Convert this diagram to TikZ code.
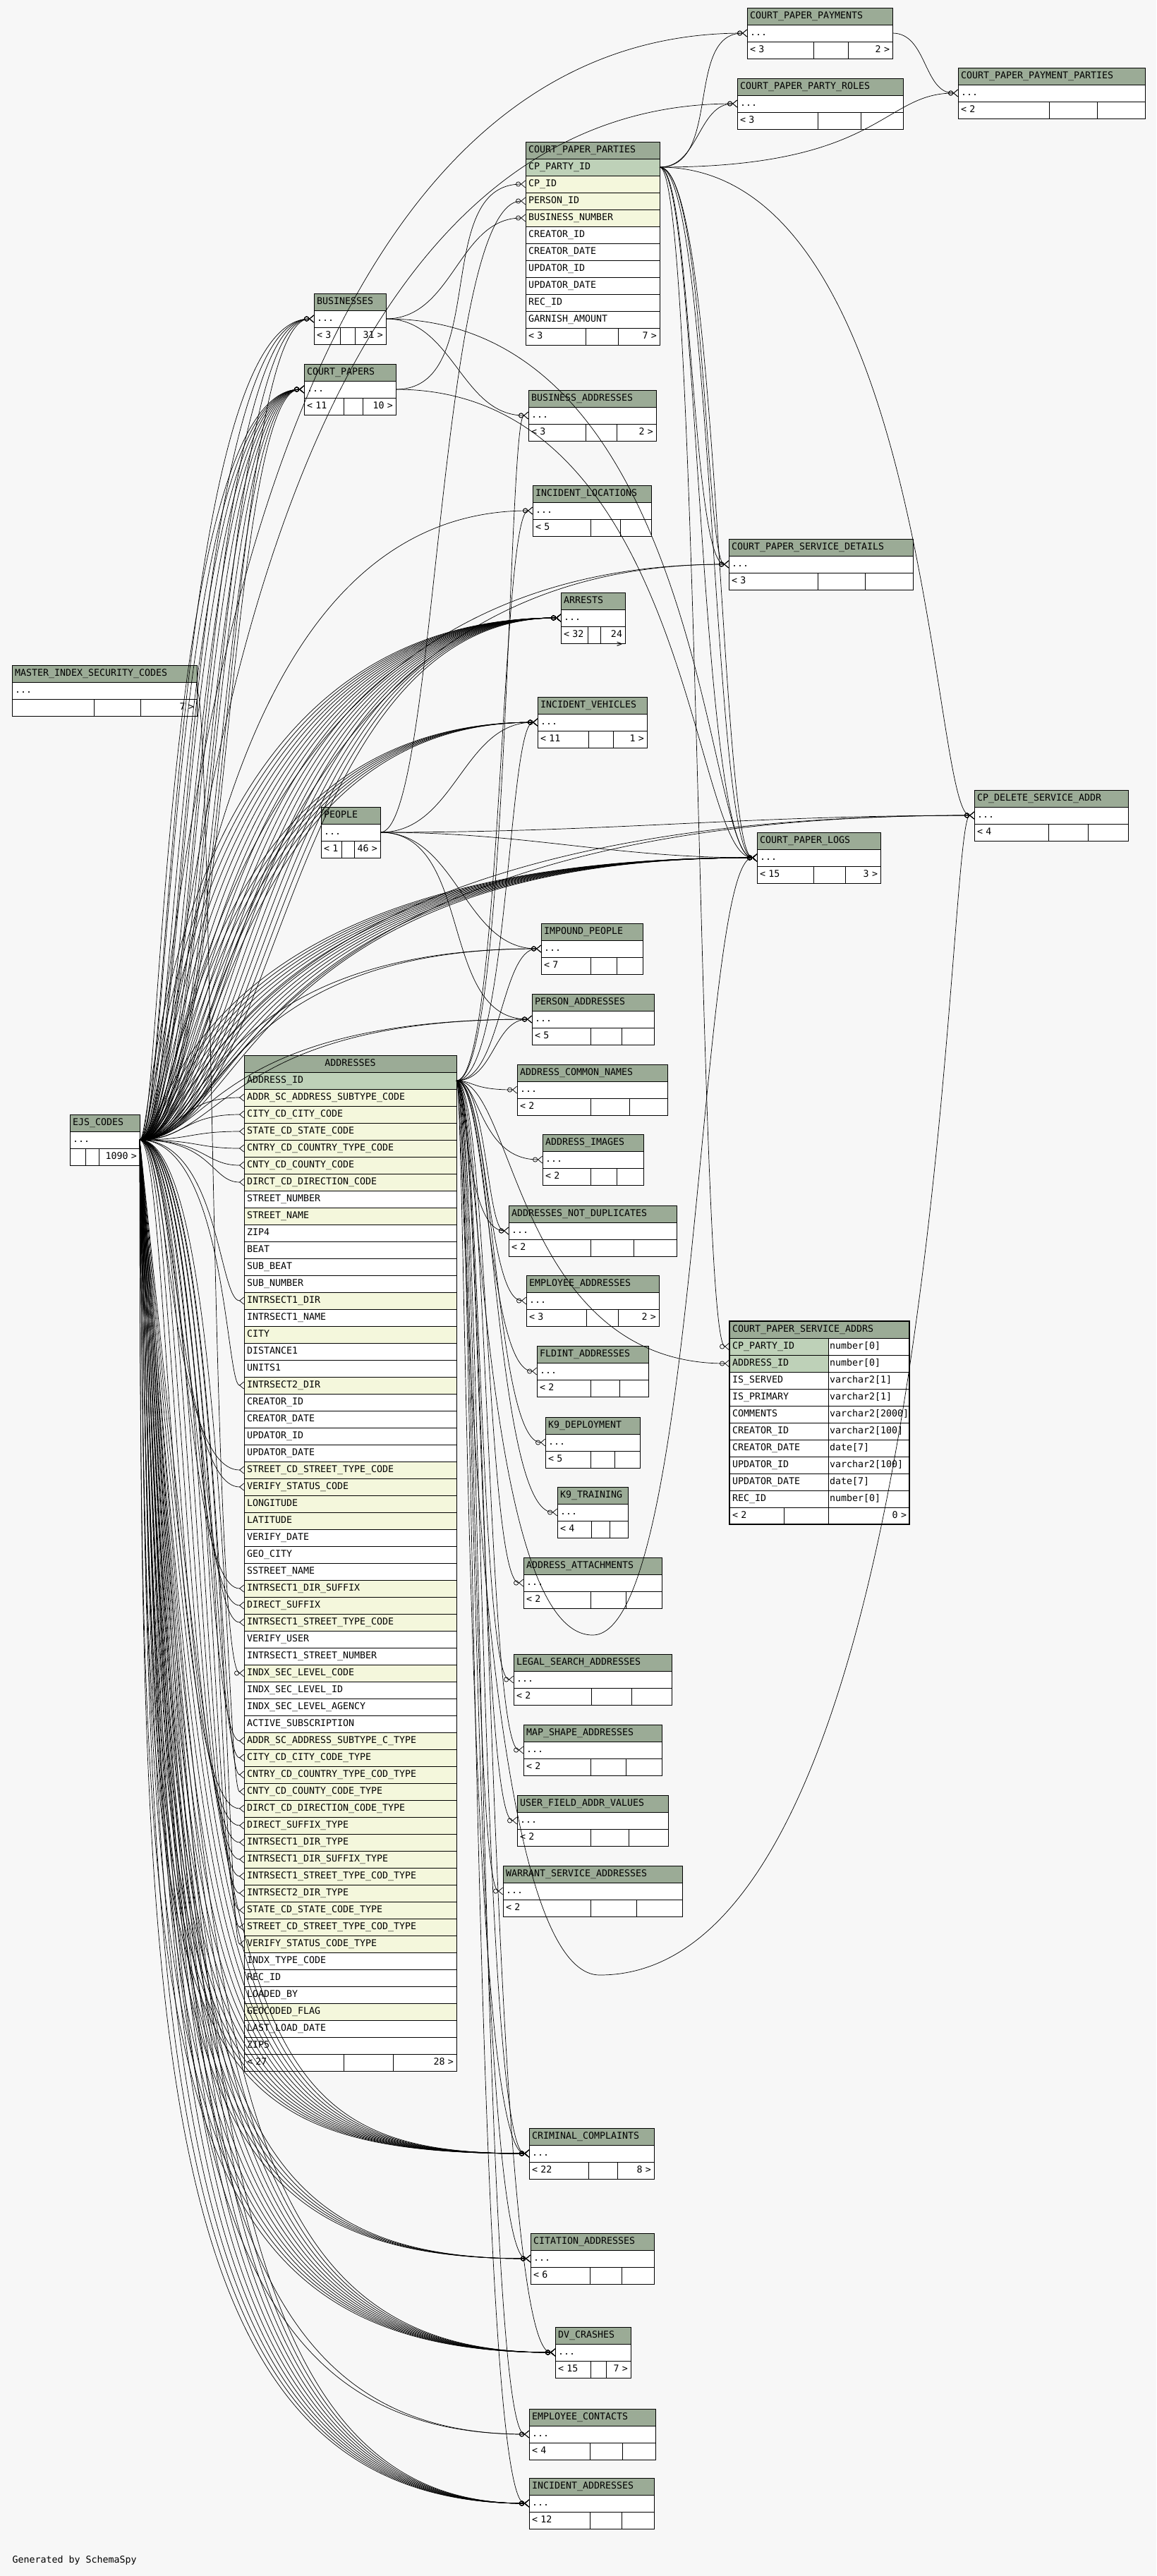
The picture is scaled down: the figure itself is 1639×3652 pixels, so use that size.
\documentclass[tikz,border=0pt]{standalone}
\usepackage{fontspec}
\usetikzlibrary{arrows.meta}
\newfontfamily\erfam{DejaVu Sans Mono}
\newcommand\erfont{\erfam\fontsize{13.3}{14}\selectfont}
\definecolor{bgc}{HTML}{F7F7F7}
\definecolor{hdrc}{HTML}{9BAB96}
\definecolor{pkc}{HTML}{BED1B8}
\definecolor{fkc}{HTML}{F4F7DC}
\tikzset{
  cell/.style={draw,line width=0.9pt,anchor=north west,outer sep=0pt,inner xsep=4pt,inner ysep=0pt,
    minimum height=24pt,text height=10pt,text depth=3pt,font=\erfont,align=left,fill=white},
  hdr/.style={cell,fill=hdrc},
  fk/.style={line width=0.7pt,-{Circle[open,length=7pt,width=7pt]Straight Barb[reversed,length=6pt,width=10pt]}},
  crow/.style={line width=0.7pt,-{Straight Barb[reversed,length=6pt,width=10pt]}}
}
% compact table: id, x, y, width, title, parents, children, cell1, cell2
\newcommand\ertab[9]{%
  \pgfmathsetmacro\ercwa{#4-8}\pgfmathsetmacro\ercwb{#8-8}%
  \pgfmathsetmacro\ercwc{#9-8}\pgfmathsetmacro\ercwd{#4-#8-#9-8}%
  \node[hdr,text width=\ercwa pt] (#1) at (#2,#3) {#5};
  \node[cell,text width=\ercwa pt] (#1-d) at (#1.south west) {...};
  \node[cell,text width=\ercwb pt] (#1-f1) at (#1-d.south west) {#6};
  \node[cell,text width=\ercwc pt] (#1-f2) at (#1-f1.north east) {};
  \node[cell,text width=\ercwd pt,align=right] (#1-f3) at (#1-f2.north east) {#7};
}
% connector routed through a vertical lane
\newcommand\fkl[4]{\draw[#1] (#2) .. controls (#2 -| #4) and (#3 -| #4) .. (#3);}
% same, first bend taken at the height of #5
\newcommand\fkd[5]{\draw[#1] (#2) .. controls (#5 -| #4) and (#3 -| #4) .. (#3);}

\begin{document}
\begin{tikzpicture}[x=1pt,y=-1pt]
  \path[use as bounding box,fill=bgc] (0,0) rectangle (1639,3652);
  \foreach \i in {0,...,120} \coordinate (lane\i) at ({200+10*\i},0);
  \coordinate (lowy) at (0,2870);

  \ertab{cppay}{1059}{11}{206}{COURT\_PAPER\_PAYMENTS}{< 3}{2 >}{94}{49}
  \ertab{cprole}{1045}{111}{235}{COURT\_PAPER\_PARTY\_ROLES}{< 3}{}{114}{61}
  \ertab{cppp}{1358}{96}{265}{COURT\_PAPER\_PAYMENT\_PARTIES}{< 2}{}{129}{68}
  \ertab{bus}{445}{416}{102}{BUSINESSES}{< 3}{31 >}{37}{21}
  \ertab{cpap}{431}{516}{130}{COURT\_PAPERS}{< 11}{10 >}{56}{27}
  \ertab{badd}{749}{553}{181}{BUSINESS\_ADDRESSES}{< 3}{2 >}{81}{44}
  \ertab{iloc}{755}{688}{168}{INCIDENT\_LOCATIONS}{< 5}{}{82}{42}
  \ertab{cpsd}{1033}{764}{261}{COURT\_PAPER\_SERVICE\_DETAILS}{< 3}{}{126}{67}
  \ertab{arr}{795}{840}{91}{ARRESTS}{< 32}{24 >}{38}{18}
  \ertab{misc}{17}{943}{262}{MASTER\_INDEX\_SECURITY\_CODES}{}{7 >}{116}{66}
  \ertab{iveh}{762}{988}{155}{INCIDENT\_VEHICLES}{< 11}{1 >}{72}{35}
  \ertab{cpdel}{1381}{1120}{218}{CP\_DELETE\_SERVICE\_ADDR}{< 4}{}{105}{56}
  \ertab{ppl}{455}{1144}{84}{PEOPLE}{< 1}{46 >}{29}{18}
  \ertab{cplog}{1073}{1180}{175}{COURT\_PAPER\_LOGS}{< 15}{3 >}{80}{45}
  \ertab{imp}{767}{1309}{144}{IMPOUND\_PEOPLE}{< 7}{}{70}{37}
  \ertab{padd}{754}{1409}{173}{PERSON\_ADDRESSES}{< 5}{}{83}{44}
  \ertab{acn}{733}{1509}{213}{ADDRESS\_COMMON\_NAMES}{< 2}{}{104}{55}
  \ertab{aimg}{769}{1608}{143}{ADDRESS\_IMAGES}{< 2}{}{68}{37}
  \ertab{and}{721}{1709}{238}{ADDRESSES\_NOT\_DUPLICATES}{< 2}{}{116}{61}
  \ertab{eadd}{746}{1808}{188}{EMPLOYEE\_ADDRESSES}{< 3}{2 >}{85}{45}
  \ertab{fld}{761}{1908}{158}{FLDINT\_ADDRESSES}{< 2}{}{76}{41}
  \ertab{k9d}{773}{2009}{134}{K9\_DEPLOYMENT}{< 5}{}{64}{34}
  \ertab{k9t}{790}{2108}{100}{K9\_TRAINING}{< 4}{}{48}{26}
  \ertab{aatt}{742}{2208}{196}{ADDRESS\_ATTACHMENTS}{< 2}{}{95}{50}
  \ertab{lsa}{728}{2345}{224}{LEGAL\_SEARCH\_ADDRESSES}{< 2}{}{110}{57}
  \ertab{msa}{742}{2445}{196}{MAP\_SHAPE\_ADDRESSES}{< 2}{}{95}{50}
  \ertab{ufav}{733}{2545}{214}{USER\_FIELD\_ADDR\_VALUES}{< 2}{}{104}{54}
  \ertab{wsa}{713}{2645}{254}{WARRANT\_SERVICE\_ADDRESSES}{< 2}{}{124}{65}
  \ertab{ccomp}{750}{3017}{177}{CRIMINAL\_COMPLAINTS}{< 22}{8 >}{84}{41}
  \ertab{cita}{752}{3166}{175}{CITATION\_ADDRESSES}{< 6}{}{84}{45}
  \ertab{dvc}{787}{3299}{107}{DV\_CRASHES}{< 15}{7 >}{50}{22}
  \ertab{econ}{750}{3415}{179}{EMPLOYEE\_CONTACTS}{< 4}{}{86}{46}
  \ertab{iadd}{750}{3513}{177}{INCIDENT\_ADDRESSES}{< 12}{}{86}{45}
  \ertab{ejs}{99}{1580}{99}{EJS\_CODES}{}{1090 >}{22}{19}

  % court paper parties
  \node[hdr,text width=182pt] (cpp) at (745,201) {COURT\_PAPER\_PARTIES};
  \foreach \nm/\fc [count=\k] in {CP\_PARTY\_ID/pkc,CP\_ID/fkc,PERSON\_ID/fkc,BUSINESS\_NUMBER/fkc,
      CREATOR\_ID/white,CREATOR\_DATE/white,UPDATOR\_ID/white,UPDATOR\_DATE/white,REC\_ID/white,GARNISH\_AMOUNT/white}
    \node[cell,fill=\fc,text width=182pt] (cpp-\k) at (745,{201+24*\k}) {\nm};
  \node[cell,text width=77pt] (cpp-f1) at (745,465) {< 3};
  \node[cell,text width=38pt] (cpp-f2) at (cpp-f1.north east) {};
  \node[cell,text width=51pt,align=right] (cpp-f3) at (cpp-f2.north east) {7 >};

  % court paper service addrs
  \node[hdr,text width=247pt] (csa) at (1034,1873) {COURT\_PAPER\_SERVICE\_ADDRS};
  \foreach \nm/\tp/\fc [count=\k] in {CP\_PARTY\_ID/number[0]/pkc,ADDRESS\_ID/number[0]/pkc,
      IS\_SERVED/varchar2[1]/white,IS\_PRIMARY/varchar2[1]/white,COMMENTS/varchar2[2000]/white,
      CREATOR\_ID/varchar2[100]/white,CREATOR\_DATE/date[7]/white,UPDATOR\_ID/varchar2[100]/white,
      UPDATOR\_DATE/date[7]/white,REC\_ID/number[0]/white}{
    \node[cell,fill=\fc,text width=132pt] (csa-\k) at (1034,{1873+24*\k}) {\nm};
    \node[cell,inner xsep=2pt,text width=111pt] (csa-t\k) at (csa-\k.north east) {\tp};
  }
  \node[cell,text width=69pt] (csa-f1) at (1034,2137) {< 2};
  \node[cell,text width=55pt] (csa-f2) at (csa-f1.north east) {};
  \node[cell,text width=107pt,align=right] (csa-f3) at (csa-f2.north east) {0 >};
  \draw[line width=2.6pt] (csa.north west) rectangle (csa-f3.south east);

  % addresses
  \node[hdr,text width=293pt,align=center] (addr) at (346,1496) {ADDRESSES};
  \foreach \nm/\fc [count=\k from 0] in {ADDRESS\_ID/pkc,ADDR\_SC\_ADDRESS\_SUBTYPE\_CODE/fkc,
      CITY\_CD\_CITY\_CODE/fkc,STATE\_CD\_STATE\_CODE/fkc,CNTRY\_CD\_COUNTRY\_TYPE\_CODE/fkc,
      CNTY\_CD\_COUNTY\_CODE/fkc,DIRCT\_CD\_DIRECTION\_CODE/fkc,STREET\_NUMBER/white,STREET\_NAME/fkc,
      ZIP4/white,BEAT/white,SUB\_BEAT/white,SUB\_NUMBER/white,INTRSECT1\_DIR/fkc,INTRSECT1\_NAME/white,
      CITY/fkc,DISTANCE1/white,UNITS1/white,INTRSECT2\_DIR/fkc,CREATOR\_ID/white,CREATOR\_DATE/white,
      UPDATOR\_ID/white,UPDATOR\_DATE/white,STREET\_CD\_STREET\_TYPE\_CODE/fkc,VERIFY\_STATUS\_CODE/fkc,
      LONGITUDE/fkc,LATITUDE/fkc,VERIFY\_DATE/white,GEO\_CITY/white,SSTREET\_NAME/white,
      INTRSECT1\_DIR\_SUFFIX/fkc,DIRECT\_SUFFIX/fkc,INTRSECT1\_STREET\_TYPE\_CODE/fkc,VERIFY\_USER/white,
      INTRSECT1\_STREET\_NUMBER/white,INDX\_SEC\_LEVEL\_CODE/fkc,INDX\_SEC\_LEVEL\_ID/white,
      INDX\_SEC\_LEVEL\_AGENCY/white,ACTIVE\_SUBSCRIPTION/white,ADDR\_SC\_ADDRESS\_SUBTYPE\_C\_TYPE/fkc,
      CITY\_CD\_CITY\_CODE\_TYPE/fkc,CNTRY\_CD\_COUNTRY\_TYPE\_COD\_TYPE/fkc,CNTY\_CD\_COUNTY\_CODE\_TYPE/fkc,
      DIRCT\_CD\_DIRECTION\_CODE\_TYPE/fkc,DIRECT\_SUFFIX\_TYPE/fkc,INTRSECT1\_DIR\_TYPE/fkc,
      INTRSECT1\_DIR\_SUFFIX\_TYPE/fkc,INTRSECT1\_STREET\_TYPE\_COD\_TYPE/fkc,INTRSECT2\_DIR\_TYPE/fkc,
      STATE\_CD\_STATE\_CODE\_TYPE/fkc,STREET\_CD\_STREET\_TYPE\_COD\_TYPE/fkc,VERIFY\_STATUS\_CODE\_TYPE/fkc,
      INDX\_TYPE\_CODE/white,REC\_ID/white,LOADED\_BY/white,GEOCODED\_FLAG/fkc,LAST\_LOAD\_DATE/white,ZIP5/white}
    \node[cell,fill=\fc,text width=293pt] (addr-\k) at (346,{1520+24*\k}) {\nm};
  \node[cell,text width=133pt] (addr-f1) at (346,2912) {< 27};
  \node[cell,text width=62pt] (addr-f2) at (addr-f1.north east) {};
  \node[cell,text width=82pt,align=right] (addr-f3) at (addr-f2.north east) {28 >};

  \node[font=\erfont,anchor=base west] (gen) at (14,3633) {Generated by SchemaSpy};

  % ejs codes fan-out
  \foreach \k in {4,6,...,12} \fkl{fk}{ejs-d.east}{bus-d.west}{lane\k};
  \foreach \k in {3,...,12} \fkl{fk}{ejs-d.east}{cpap-d.west}{lane\k};
  \foreach \k in {2,...,20} \fkl{fk}{ejs-d.east}{arr-d.west}{lane\k};
  \foreach \k in {6,...,11} \fkl{fk}{ejs-d.east}{iveh-d.west}{lane\k};
  \foreach \k in {4,...,15} \fkl{fk}{ejs-d.east}{cplog-d.west}{lane\k};
  \foreach \k in {7,12} \fkl{fk}{ejs-d.east}{cpsd-d.west}{lane\k};
  \foreach \k in {9,14} \fkl{fk}{ejs-d.east}{cpdel-d.west}{lane\k};
  \foreach \k in {10,12} \fkl{fk}{ejs-d.east}{padd-d.west}{lane\k};
  \foreach \k in {9,11} \fkl{fk}{ejs-d.east}{imp-d.west}{lane\k};
  \fkl{fk}{ejs-d.east}{iloc-d.west}{lane6}
  \fkl{fk}{ejs-d.east}{cppay-d.west}{lane5}
  \fkl{fk}{ejs-d.east}{cprole-d.west}{lane7}
  \foreach \k in {1,...,13} \fkd{fk}{ejs-d.east}{ccomp-d.west}{lane\k}{lowy};
  \foreach \k in {2,...,6} \fkd{fk}{ejs-d.east}{cita-d.west}{lane\k}{lowy};
  \foreach \k in {0,...,10} \fkd{fk}{ejs-d.east}{dvc-d.west}{lane\k}{lowy};
  \foreach \k in {3,5} \fkd{fk}{ejs-d.east}{econ-d.west}{lane\k}{lowy};
  \foreach \k in {0,...,9} \fkd{fk}{ejs-d.east}{iadd-d.west}{lane\k}{lowy};
  \foreach \r [count=\c] in {1,...,6,13,18,23,24,30,31,32,39,40,...,51}{
    \pgfmathtruncatemacro\erlane{4+mod(\c,9)}
    \fkl{crow}{ejs-d.east}{addr-\r.west}{lane\erlane}
  }
  \fkl{fk}{misc-d.east}{addr-35.west}{lane10}

  % address id fan-out
  \foreach \t/\k in {acn/47,aimg/48,and/46,and/49,eadd/49,fld/49,k9d/50,k9t/50,aatt/49,lsa/48,msa/49,
      ufav/48,wsa/47,ccomp/46,ccomp/48,cita/47,dvc/49,econ/48,iadd/47,padd/50,imp/51,iveh/52,iloc/51,badd/52}
    \fkl{fk}{addr-0.east}{\t-d.west}{lane\k};
  \fkl{fk}{addr-0.east}{csa-2.west}{lane53}
  \coordinate (wpa) at (840,2318);
  \coordinate (wpb) at (850,2800);
  \draw[fk] (addr-0.east) .. controls (addr-0.east -| lane48) and (wpa -| lane48) .. (wpa)
    .. controls (wpa -| lane79) and (cplog-d.west -| lane79) .. (cplog-d.west);
  \draw[fk] (addr-0.east) .. controls (addr-0.east -| lane46) and (wpb -| lane46) .. (wpb)
    .. controls (wpb -| lane114) and (cpdel-d.west -| lane114) .. (cpdel-d.west);

  % court paper parties
  \draw[fk] (cpp-1.east) to[out=0,in=180] (cppay-d.west);
  \draw[fk] (cpp-1.east) to[out=0,in=180] (cprole-d.west);
  \fkl{fk}{cpp-1.east}{cppp-d.west}{lane105}
  \draw[fk] (cppay-d.east) to[out=0,in=180] (cppp-d.west);
  \foreach \k in {78,80} \fkl{fk}{cpp-1.east}{cpsd-d.west}{lane\k};
  \foreach \k in {79,81,82} \fkl{fk}{cpp-1.east}{cplog-d.west}{lane\k};
  \fkl{fk}{cpp-1.east}{csa-1.west}{lane79}
  \fkl{fk}{cpp-1.east}{cpdel-d.west}{lane112}

  % court papers, businesses, people
  \draw[fk] (cpap-d.east) to[out=0,in=180] (cpp-2.west);
  \fkl{fk}{cpap-d.east}{cplog-d.west}{lane78}
  \draw[fk] (bus-d.east) to[out=0,in=180] (cpp-4.west);
  \draw[fk] (bus-d.east) to[out=0,in=180] (badd-d.west);
  \fkl{fk}{bus-d.east}{cplog-d.west}{lane80}
  \fkl{fk}{ppl-d.east}{cpp-3.west}{lane42}
  \foreach \t in {imp,padd,cplog,cpdel,iveh}
    \draw[fk] (ppl-d.east) to[out=0,in=180] (\t-d.west);
\end{tikzpicture}
\end{document}
